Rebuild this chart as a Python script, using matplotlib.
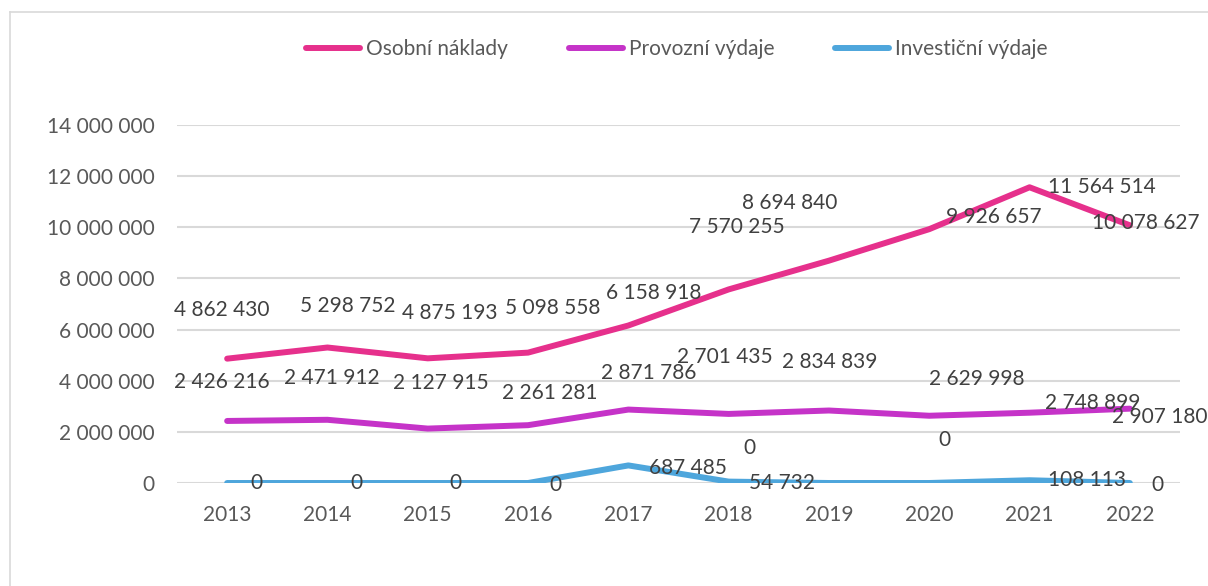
import matplotlib.pyplot as plt
from matplotlib.lines import Line2D

# data
years = ["2013", "2014", "2015", "2016", "2017", "2018", "2019", "2020", "2021", "2022"]
osobni = [4862430, 5298752, 4875193, 5098558, 6158918, 7570255, 8694840, 9926657, 11564514, 10078627]
provozni = [2426216, 2471912, 2127915, 2261281, 2871786, 2701435, 2834839, 2629998, 2748899, 2907180]
investicni = [0, 0, 0, 0, 687485, 54732, 0, 0, 108113, 0]

names = ["Osobní náklady", "Provozní výdaje", "Investiční výdaje"]
colors = ["#E6308C", "#C533C8", "#4EA6DC"]

# where Excel left the data labels (pixel offsets from the point)
offs_osobni = [(-5, 49), (20, 42), (22, 45), (25, 45), (25, 33), (8, 62), (-39, 58), (65, 12), (72, 0), (16, 2)]
offs_provozni = [(-5, 39), (4, 42), (13, 46), (22, 32), (20, 37), (-4, 57), (1, 49), (47, 37), (63, 10), (30, -8)]
offs_invest = [(29, 0), (29, 0), (28, 0), (27, -2), (60, -3), (53, -1), (-80, 35), (15, 43), (57, 0), (28, -2)]

plt.rcParams['font.family'] = ['Lato', 'DejaVu Sans']

fig = plt.figure(figsize=(12.08, 5.86), dpi=100)
ax = fig.add_axes([177 / 1208, 1 - 483 / 586, 1003 / 1208, 358 / 586])

x = list(range(len(years)))
series = [osobni, provozni, investicni]
offsets = [offs_osobni, offs_provozni, offs_invest]
for vals, name, col, offs in zip(series, names, colors, offsets):
    ax.plot(x, vals, color=col, lw=4.3, label=name, solid_capstyle='round', zorder=3)
    for xi, v, (dx, dy) in zip(x, vals, offs):
        lab = f"{v:,}".replace(",", " ")
        ax.annotate(lab, (xi, v), xytext=(dx, dy), textcoords='offset pixels',
                    ha='center', va='center', fontsize=15, color='#404040', zorder=4)

ax.set_xlim(-0.5, 9.5)
ax.set_ylim(0, 14000000)
ax.set_xticks(x)
ax.set_xticklabels(years)
ax.set_yticks(range(0, 14000001, 2000000))
ax.set_yticklabels([f"{v:,}".replace(",", " ") for v in range(0, 14000001, 2000000)])
ax.tick_params(length=0, labelsize=15, labelcolor='#595959')
ax.tick_params(axis='x', pad=16)
ax.tick_params(axis='y', pad=16)
ax.grid(axis='y', color='#D9D9D9', lw=1.5)
ax.set_axisbelow(True)
for s in ax.spines.values():
    s.set_visible(False)

ax.legend(loc='center', bbox_to_anchor=(677 / 1208, 1 - 49 / 586), bbox_transform=fig.transFigure,
          ncol=3, frameon=False, fontsize=15, handlelength=2.6, handletextpad=0.3,
          columnspacing=2.9, labelcolor='#595959')

# chart frame
fig.add_artist(Line2D([10 / 1208, 10 / 1208], [0, 1 - 12 / 586], color='#D9D9D9', lw=1.2))
fig.add_artist(Line2D([10 / 1208, 1], [1 - 12 / 586, 1 - 12 / 586], color='#D9D9D9', lw=1.2))

plt.savefig("out.png", dpi=100)
plt.close()
